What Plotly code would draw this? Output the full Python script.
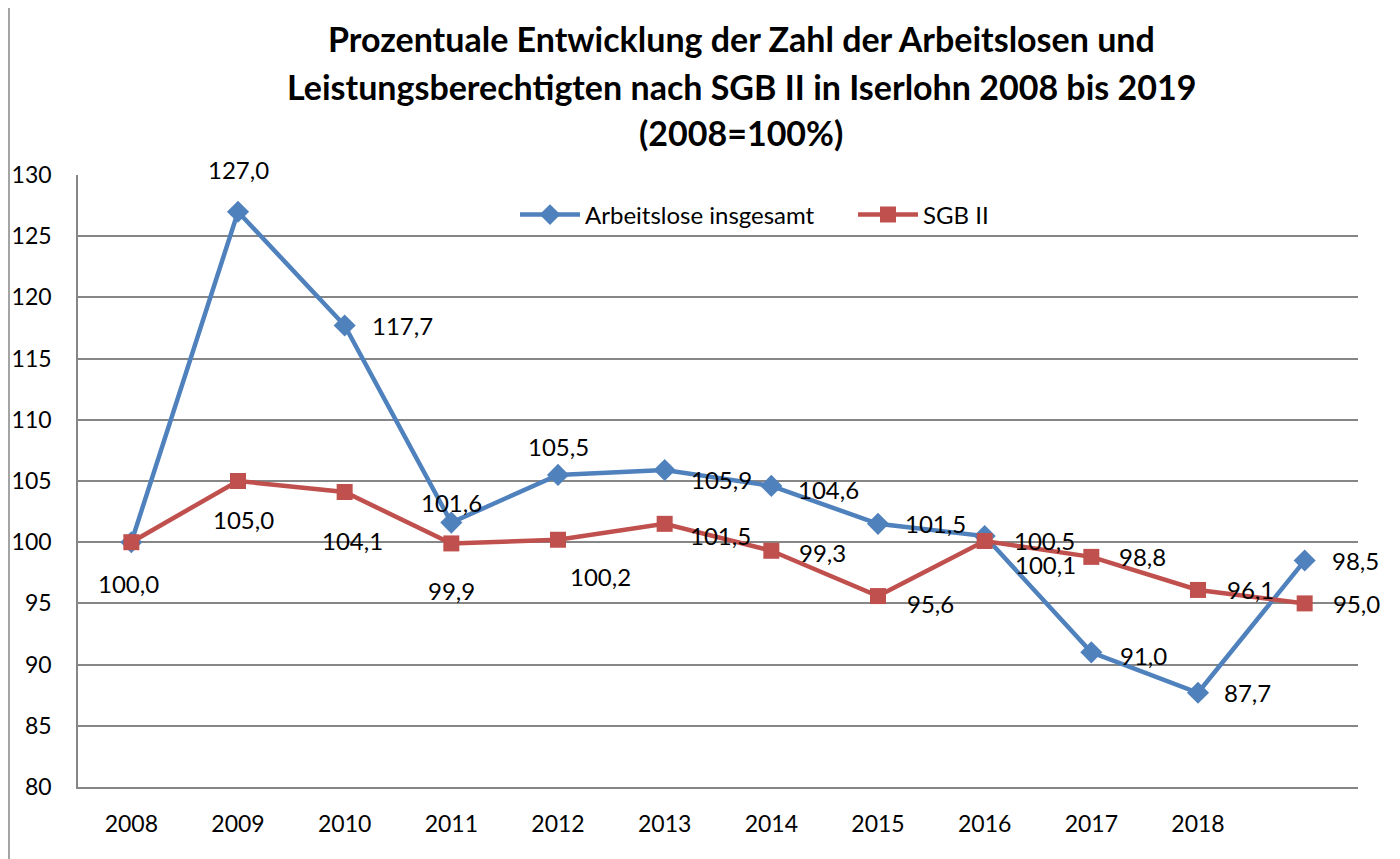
import plotly.graph_objects as go

years = ["2008", "2009", "2010", "2011", "2012", "2013", "2014", "2015", "2016", "2017", "2018", "2019"]
tick_labels = ["2008", "2009", "2010", "2011", "2012", "2013", "2014", "2015", "2016", "2017", "2018", ""]
arbeitslose = [100.0, 127.0, 117.7, 101.6, 105.5, 105.9, 104.6, 101.5, 100.5, 91.0, 87.7, 98.5]
sgb2 = [100.0, 105.0, 104.1, 99.9, 100.2, 101.5, 99.3, 95.6, 100.1, 98.8, 96.1, 95.0]

# label placement (style): (xanchor, xshift px, yshift px); None = label hidden (overlaps)
blue_label_pos = [None, ("center", 0, 42), ("left", 25, 0), ("center", 0, 20), ("center", 0, 28),
                  ("left", 24, -10), ("left", 25, -4), ("left", 25, 0), ("left", 27, -4),
                  ("left", 27, -3), ("left", 24, 0), ("left", 25, 0)]
red_label_pos = [("center", -3, -41), ("center", 5, -38), ("center", 8, -48), ("center", 0, -47),
                 ("center", 42, -37), ("left", 23, -12), ("left", 26, -2), ("left", 27, -7),
                 ("left", 28, -24), ("left", 26, 0), ("left", 27, 0), ("left", 26, 0)]

def fmt(v):
    return f"{v:.1f}".replace(".", ",")

FONT = "Lato, Calibri, Carlito, sans-serif"
BLUE = "#4F81BD"
RED = "#C0504D"
GRID = "#868686"

fig = go.Figure()
fig.add_trace(go.Scatter(
    x=years, y=arbeitslose, name="Arbeitslose insgesamt", mode="lines+markers",
    line=dict(color=BLUE, width=4.5),
    marker=dict(symbol="diamond", size=17, color=BLUE),
    cliponaxis=False, legend="legend",
))
fig.add_trace(go.Scatter(
    x=years, y=sgb2, name="SGB II", mode="lines+markers",
    line=dict(color=RED, width=4.5),
    marker=dict(symbol="square", size=16, color=RED),
    cliponaxis=False, legend="legend2",
))

for series, positions in ((arbeitslose, blue_label_pos), (sgb2, red_label_pos)):
    for i, (v, pos) in enumerate(zip(series, positions)):
        if pos is None:
            continue
        xa, xs, ys = pos
        fig.add_annotation(x=i, y=v, xref="x", yref="y", text=fmt(v), showarrow=False,
                           xanchor=xa, yanchor="middle", xshift=xs, yshift=ys,
                           font=dict(size=24, family=FONT, color="black"))

# title lines (page body has 8px margin, figure is offset accordingly)
title_lines = ["Prozentuale Entwicklung der Zahl der Arbeitslosen und",
               "Leistungsberechtigten nach SGB II in Iserlohn 2008 bis 2019",
               "(2008=100%)"]
title_y_px = [39, 86, 132]
for line, ypx in zip(title_lines, title_y_px):
    fig.add_annotation(text=f"<b>{line}</b>", xref="paper", yref="paper",
                       x=(741 - 78) / 1280, y=(787 - ypx) / 612,
                       xanchor="center", yanchor="middle", showarrow=False,
                       font=dict(size=34, family=FONT, color="black"))

leg_common = dict(orientation="h", yanchor="middle", y=(787 - 215) / 612, xanchor="left",
                  font=dict(size=24, family=FONT), bgcolor="rgba(0,0,0,0)", itemwidth=60)

fig.update_layout(
    width=1392, height=851,
    margin=dict(l=70, r=42, t=167, b=72),
    paper_bgcolor="white", plot_bgcolor="white",
    font=dict(family=FONT, size=23, color="black"),
    legend=dict(x=(515 - 78) / 1280, **leg_common),
    legend2=dict(x=(853 - 78) / 1280, **leg_common),
    showlegend=True,
)
fig.update_xaxes(
    type="category", range=[-0.5, 11.5],
    tickvals=years, ticktext=tick_labels, automargin=False,
    showgrid=False, showline=True, linecolor=GRID, linewidth=1.5,
    ticks="", ticklabelstandoff=16, tickfont=dict(size=23),
)
fig.update_yaxes(
    range=[80, 130], dtick=5, showgrid=True, gridcolor=GRID, gridwidth=1.5,
    showline=True, linecolor=GRID, linewidth=1.5, zeroline=False, automargin=False,
    ticks="", ticklabelstandoff=20, tickfont=dict(size=23),
)
fig.add_shape(type="line", xref="paper", yref="paper",
              x0=(9 - 78) / 1280, x1=(9 - 78) / 1280, y0=-0.2, y1=1.5,
              line=dict(color=GRID, width=1.5))

fig.write_html("out.html")
